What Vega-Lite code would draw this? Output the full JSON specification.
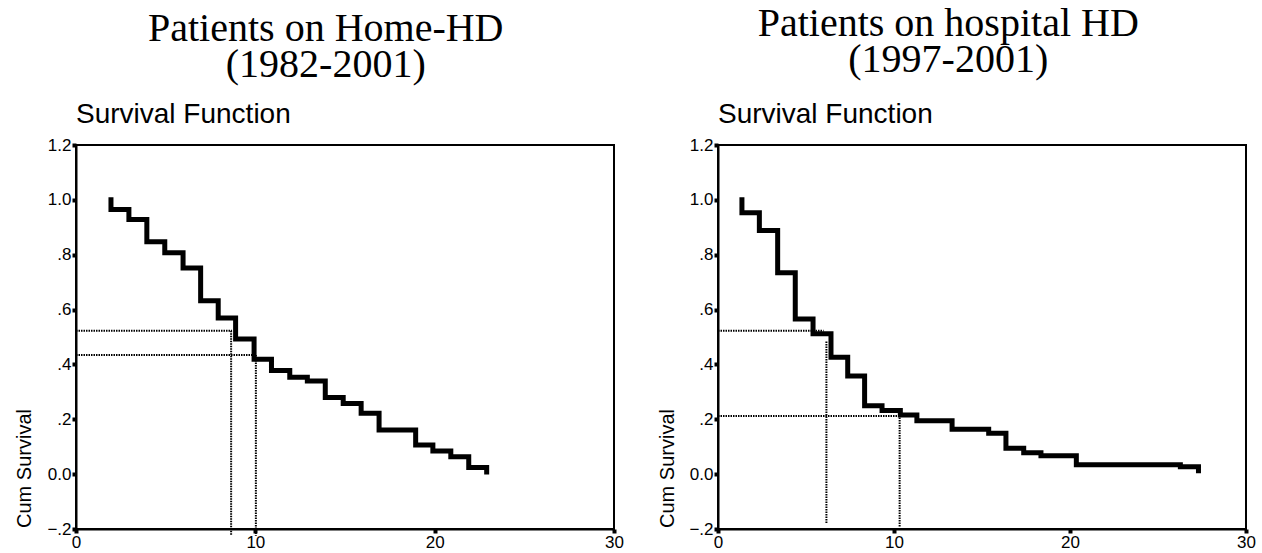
{
  "$schema": "https://vega.github.io/schema/vega-lite/v6.json",
  "background": "white",
  "padding": {"left": 13, "top": 4, "right": 8, "bottom": 0},
  "spacing": 31,
  "config": {
    "font": "Liberation Sans",
    "view": {"stroke": "black", "strokeWidth": 2},
    "axis": {
      "grid": false,
      "domainColor": "black",
      "domainWidth": 2,
      "tickColor": "black",
      "tickSize": 4,
      "tickWidth": 4,
      "labelColor": "black",
      "labelFont": "Liberation Sans",
      "labelFontSize": 17,
      "labelPadding": 1,
      "titleColor": "black",
      "titleFont": "Liberation Sans",
      "titleFontWeight": "normal",
      "titleFontSize": 20
    }
  },
  "datasets": {
    "home": [
      {"t": 1.95, "s": 1.0}, {"t": 1.95, "s": 0.965}, {"t": 2.95, "s": 0.928}, {"t": 3.95, "s": 0.847},
      {"t": 4.95, "s": 0.807}, {"t": 5.97, "s": 0.752}, {"t": 6.95, "s": 0.632}, {"t": 7.93, "s": 0.569},
      {"t": 8.9, "s": 0.493}, {"t": 9.93, "s": 0.419}, {"t": 10.9, "s": 0.378}, {"t": 11.92, "s": 0.353},
      {"t": 12.9, "s": 0.34}, {"t": 13.9, "s": 0.279}, {"t": 14.9, "s": 0.258}, {"t": 15.9, "s": 0.222},
      {"t": 16.9, "s": 0.161}, {"t": 18.94, "s": 0.106}, {"t": 19.9, "s": 0.084}, {"t": 20.9, "s": 0.063},
      {"t": 21.9, "s": 0.024}, {"t": 22.9, "s": 0.008}
    ],
    "hospital": [
      {"t": 1.36, "s": 1.0}, {"t": 1.36, "s": 0.953}, {"t": 2.35, "s": 0.888}, {"t": 3.39, "s": 0.734},
      {"t": 4.39, "s": 0.566}, {"t": 5.4, "s": 0.512}, {"t": 6.42, "s": 0.426}, {"t": 7.37, "s": 0.358},
      {"t": 8.33, "s": 0.249}, {"t": 9.32, "s": 0.232}, {"t": 10.36, "s": 0.216}, {"t": 11.3, "s": 0.195},
      {"t": 13.3, "s": 0.164}, {"t": 15.38, "s": 0.149}, {"t": 16.36, "s": 0.094}, {"t": 17.37, "s": 0.078},
      {"t": 18.35, "s": 0.067}, {"t": 20.36, "s": 0.034}, {"t": 26.27, "s": 0.027}, {"t": 27.3, "s": 0.012}
    ],
    "homeRef": [
      {"x1": 0, "x2": 8.7, "y1": 0.523, "y2": 0.523},
      {"x1": 8.65, "x2": 8.65, "y1": 0.523, "y2": -0.225},
      {"x1": 0, "x2": 10.0, "y1": 0.434, "y2": 0.434},
      {"x1": 10.03, "x2": 10.03, "y1": 0.434, "y2": -0.225}
    ],
    "hospitalRef": [
      {"x1": 0, "x2": 6.0, "y1": 0.523, "y2": 0.523},
      {"x1": 6.16, "x2": 6.16, "y1": 0.484, "y2": -0.18},
      {"x1": 0, "x2": 10.36, "y1": 0.212, "y2": 0.212},
      {"x1": 10.32, "x2": 10.32, "y1": 0.234, "y2": -0.193}
    ]
  },
  "hconcat": [
    {
      "title": {
        "text": ["Patients on Home-HD", "(1982-2001)"],
        "font": "Liberation Serif",
        "fontSize": 40,
        "fontWeight": "normal",
        "lineHeight": 36,
        "color": "black",
        "anchor": "middle",
        "frame": "bounds",
        "dx": 7,
        "offset": 15
      },
      "vconcat": [
        {
          "title": {
            "text": "Survival Function",
            "font": "Liberation Sans",
            "fontSize": 28,
            "fontWeight": "normal",
            "color": "black",
            "anchor": "start",
            "frame": "group",
            "offset": 7
          },
          "width": 538,
          "height": 384,
          "layer": [
            {
              "data": {"name": "homeRef"},
              "mark": {"type": "rule", "color": "black", "strokeWidth": 2, "strokeDash": [1.5, 1]},
              "encoding": {
                "x": {"field": "x1", "type": "quantitative", "scale": {"domain": [0, 30], "nice": false}},
                "x2": {"field": "x2"},
                "y": {"field": "y1", "type": "quantitative", "scale": {"domain": [-0.2, 1.2], "nice": false}},
                "y2": {"field": "y2"}
              }
            },
            {
              "data": {"name": "home"},
              "mark": {"type": "line", "interpolate": "step-after", "color": "black", "strokeWidth": 5, "strokeCap": "square", "strokeJoin": "miter"},
              "encoding": {
                "x": {
                  "field": "t", "type": "quantitative",
                  "scale": {"domain": [0, 30], "nice": false},
                  "axis": {"values": [0, 10, 20, 30], "title": null, "labelFlush": false, "labelFontSize": 17}
                },
                "y": {
                  "field": "s", "type": "quantitative",
                  "scale": {"domain": [-0.2, 1.2], "nice": false},
                  "axis": {
                    "values": [-0.2, 0, 0.2, 0.4, 0.6, 0.8, 1.0, 1.2],
                    "labelFlush": false,
                    "labelFontSize": 17,
                    "labelExpr": "abs(datum.value) < 0.001 ? '0.0' : abs(datum.value - 1) < 0.001 ? '1.0' : replace(format(datum.value, '.1f'), '0.', '.')",
                    "title": "Cum Survival",
                    "titleX": -46,
                    "titleY": 323,
                    "titleAngle": -90,
                    "titleAlign": "center",
                    "titleBaseline": "alphabetic"
                  }
                }
              }
            }
          ]
        }
      ]
    },
    {
      "title": {
        "text": ["Patients on hospital HD", "(1997-2001)"],
        "font": "Liberation Serif",
        "fontSize": 40,
        "fontWeight": "normal",
        "lineHeight": 36,
        "color": "black",
        "anchor": "middle",
        "frame": "bounds",
        "dx": -8,
        "offset": 20
      },
      "vconcat": [
        {
          "title": {
            "text": "Survival Function",
            "font": "Liberation Sans",
            "fontSize": 28,
            "fontWeight": "normal",
            "color": "black",
            "anchor": "start",
            "frame": "group",
            "offset": 7
          },
          "width": 528,
          "height": 384,
          "layer": [
            {
              "data": {"name": "hospitalRef"},
              "mark": {"type": "rule", "color": "black", "strokeWidth": 2, "strokeDash": [1.5, 1]},
              "encoding": {
                "x": {"field": "x1", "type": "quantitative", "scale": {"domain": [0, 30], "nice": false}},
                "x2": {"field": "x2"},
                "y": {"field": "y1", "type": "quantitative", "scale": {"domain": [-0.2, 1.2], "nice": false}},
                "y2": {"field": "y2"}
              }
            },
            {
              "data": {"name": "hospital"},
              "mark": {"type": "line", "interpolate": "step-after", "color": "black", "strokeWidth": 5, "strokeCap": "square", "strokeJoin": "miter"},
              "encoding": {
                "x": {
                  "field": "t", "type": "quantitative",
                  "scale": {"domain": [0, 30], "nice": false},
                  "axis": {"values": [0, 10, 20, 30], "title": null, "labelFlush": false, "labelFontSize": 17}
                },
                "y": {
                  "field": "s", "type": "quantitative",
                  "scale": {"domain": [-0.2, 1.2], "nice": false},
                  "axis": {
                    "values": [-0.2, 0, 0.2, 0.4, 0.6, 0.8, 1.0, 1.2],
                    "labelFlush": false,
                    "labelFontSize": 17,
                    "labelExpr": "abs(datum.value) < 0.001 ? '0.0' : abs(datum.value - 1) < 0.001 ? '1.0' : replace(format(datum.value, '.1f'), '0.', '.')",
                    "title": "Cum Survival",
                    "titleX": -45,
                    "titleY": 323,
                    "titleAngle": -90,
                    "titleAlign": "center",
                    "titleBaseline": "alphabetic"
                  }
                }
              }
            }
          ]
        }
      ]
    }
  ]
}
